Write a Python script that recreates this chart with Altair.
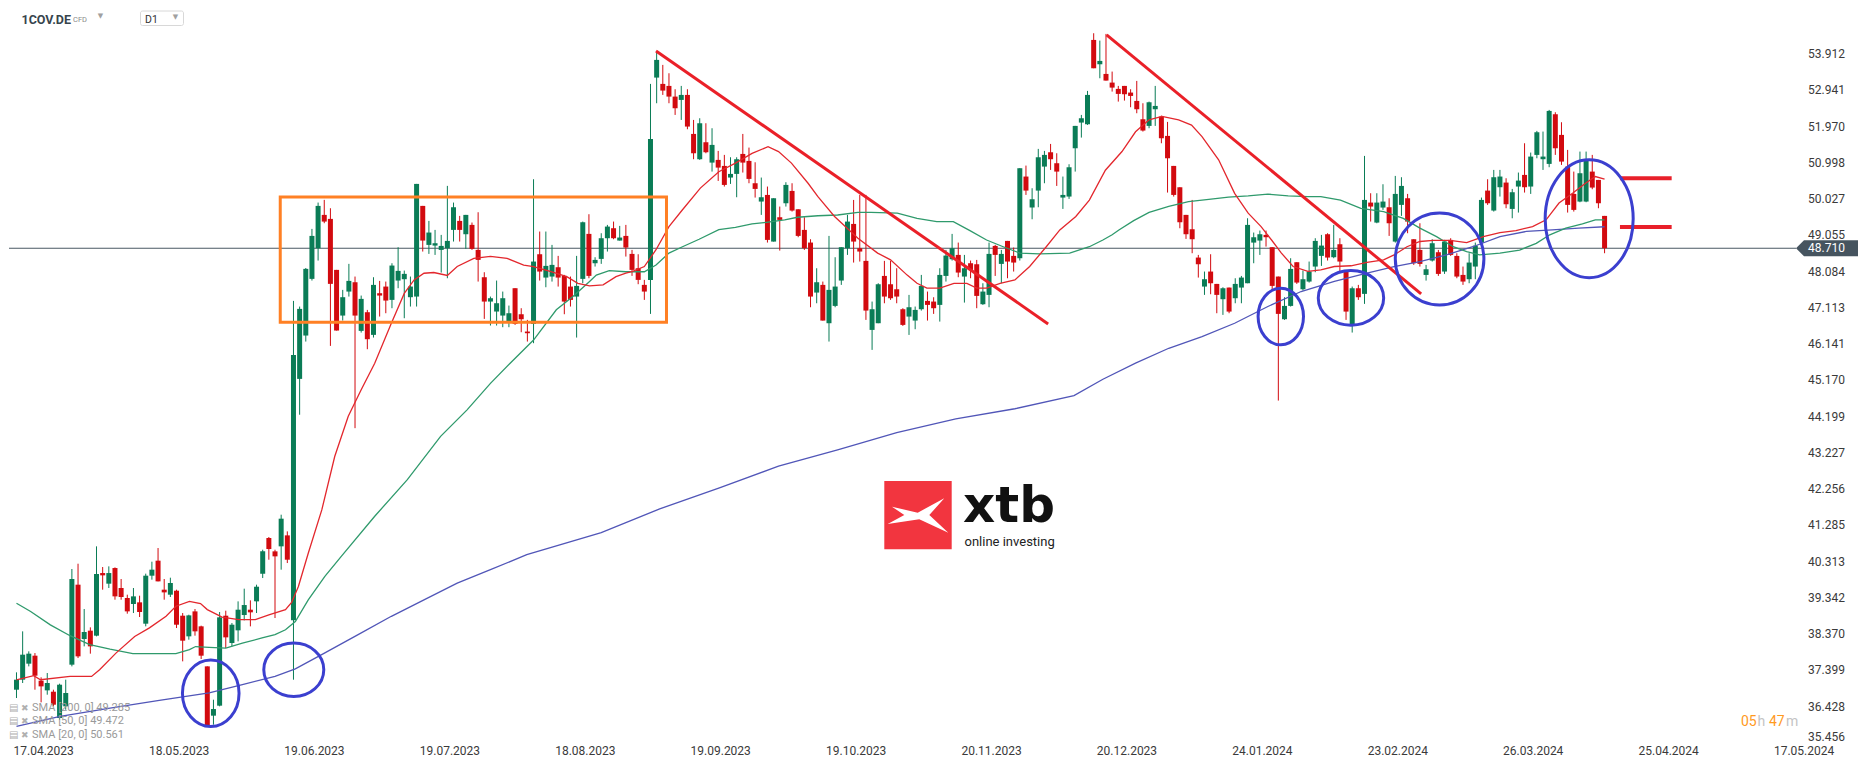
import altair as alt
import pandas as pd

# ---------------- data ----------------
opens = [36.884, 37.152, 37.581, 37.795, 37.125, 36.866, 36.830, 36.125, 36.438, 37.554,
         39.697, 38.241, 38.465, 38.331, 40.009, 39.724, 40.143, 39.608, 39.340, 39.179,
         39.224, 38.652, 39.938, 40.340, 39.563, 39.429, 39.536, 38.866, 38.313, 38.982,
         38.581, 37.509, 36.188, 36.456, 38.866, 38.134, 38.474, 38.884, 39.027, 39.250,
         39.992, 40.947, 40.590, 40.724, 41.018, 38.741, 45.210, 46.371, 47.889, 48.710,
         49.603, 49.496, 48.130, 46.906, 47.549, 47.799, 46.496, 46.996, 46.389, 47.505,
         47.683, 47.326, 47.844, 47.880, 47.398, 47.415, 49.844, 48.799, 48.781, 48.665,
         48.710, 49.201, 49.442, 49.085, 49.335, 48.665, 47.933, 47.281, 47.014, 46.906,
         46.746, 47.639, 46.942, 46.478, 46.683, 48.549, 47.924, 47.951, 48.201, 47.969,
         47.683, 47.415, 47.889, 49.094, 48.308, 48.424, 48.978, 49.246, 48.915, 49.040,
         48.558, 48.174, 47.728, 47.862, 53.281, 53.112, 53.058, 52.772, 52.683, 52.817,
         51.772, 51.094, 51.549, 51.004, 51.076, 50.915, 50.603, 50.701, 51.236, 51.049,
         50.451, 49.960, 50.138, 48.888, 49.540, 49.915, 50.245, 49.754, 49.201, 48.862,
         47.522, 47.728, 46.701, 47.165, 47.844, 48.710, 49.361, 48.710, 48.371, 46.522,
         46.701, 47.968, 47.745, 47.611, 47.076, 46.879, 46.772, 47.076, 47.299, 47.281,
         47.192, 47.968, 48.415, 48.531, 47.951, 48.308, 48.281, 47.210, 47.460, 48.772,
         48.290, 48.906, 48.505, 48.442, 50.630, 49.799, 50.254, 50.897, 51.281, 50.987,
         50.067, 50.094, 51.388, 52.076, 52.031, 54.290, 53.638, 53.379, 53.147, 52.978,
         53.058, 52.880, 52.656, 52.165, 51.987, 52.433, 52.237, 51.719, 50.915, 50.343,
         49.603, 49.219, 48.460, 47.683, 48.085, 47.754, 47.344, 47.656, 47.371, 47.656,
         47.772, 48.861, 48.915, 49.067, 48.737, 47.951, 46.808, 47.165, 48.335, 47.611,
         47.817, 48.219, 48.505, 49.085, 48.469, 48.817, 48.112, 46.656, 47.638, 47.487,
         49.933, 49.397, 49.799, 49.808, 48.888, 49.871, 50.049, 48.951, 48.665, 47.995,
         48.380, 48.603, 48.085, 48.933, 48.504, 47.995, 47.880, 48.219, 48.861, 50.254,
         49.719, 50.344, 50.469, 49.763, 50.362, 50.674, 50.362, 51.210, 51.094, 50.969,
         52.299, 51.746, 50.897, 50.165, 49.960, 49.960, 50.763, 50.540, 49.576]
highs = [37.349, 38.447, 37.911, 37.866, 37.215, 37.331, 36.884, 37.045, 37.152, 40.117,
         40.259, 39.045, 38.554, 40.724, 40.170, 40.188, 40.161, 39.849, 39.429, 39.608,
         39.402, 39.992, 40.313, 40.679, 39.849, 39.884, 39.563, 38.938, 38.893, 39.045,
         38.599, 37.509, 36.616, 38.965, 39.000, 38.670, 39.250, 39.590, 39.277, 39.697,
         40.634, 40.974, 40.634, 41.572, 41.125, 47.299, 47.147, 48.180, 49.228, 49.933,
         50.005, 49.781, 48.130, 47.594, 48.291, 47.951, 47.442, 47.058, 47.933, 47.835,
         47.817, 48.308, 48.737, 48.112, 47.951, 50.433, 49.844, 49.442, 49.201, 49.067,
         50.380, 49.933, 49.576, 49.603, 49.398, 49.674, 48.067, 47.415, 47.844, 47.549,
         47.174, 47.639, 47.103, 46.790, 50.558, 49.157, 49.157, 48.799, 48.505, 47.996,
         47.951, 48.505, 49.424, 49.621, 48.469, 49.112, 49.335, 49.424, 49.308, 49.335,
         48.665, 48.549, 47.862, 53.112, 53.978, 53.621, 53.397, 52.969, 53.058, 52.969,
         52.147, 52.192, 52.058, 51.924, 51.317, 51.210, 51.147, 51.147, 51.772, 51.406,
         51.013, 50.603, 50.362, 50.049, 49.826, 50.478, 50.451, 49.754, 49.540, 48.951,
         48.174, 47.817, 49.040, 48.469, 48.737, 49.603, 50.004, 50.138, 50.138, 47.281,
         47.772, 48.371, 48.371, 48.174, 47.103, 47.460, 47.147, 47.995, 47.549, 47.397,
         48.174, 48.665, 49.094, 48.861, 48.531, 48.380, 48.397, 47.772, 48.861, 48.799,
         48.665, 48.906, 48.728, 50.853, 50.924, 50.317, 51.371, 51.317, 51.504, 51.254,
         50.630, 50.960, 51.987, 52.281, 52.924, 54.469, 54.272, 54.451, 53.442, 53.058,
         53.058, 52.969, 53.192, 52.594, 52.638, 53.058, 52.263, 52.094, 50.915, 50.343,
         49.603, 50.004, 48.531, 48.085, 48.549, 47.754, 47.665, 47.656, 47.906, 47.968,
         49.513, 49.130, 49.183, 49.183, 48.737, 47.951, 47.397, 48.442, 48.335, 48.112,
         48.353, 48.978, 49.067, 49.112, 49.335, 48.978, 48.112, 47.683, 47.728, 51.183,
         50.183, 50.183, 50.424, 50.049, 50.647, 50.612, 50.165, 48.951, 49.379, 48.264,
         48.951, 48.665, 48.933, 48.978, 48.576, 48.219, 48.576, 48.861, 50.067, 50.558,
         50.808, 50.808, 50.585, 50.299, 50.737, 51.522, 51.272, 51.853, 51.835, 52.415,
         52.353, 52.085, 51.344, 50.763, 51.299, 51.299, 51.210, 50.540, 49.576]
lows = [36.661, 37.063, 37.509, 36.884, 36.545, 36.750, 36.438, 36.080, 36.348, 37.509,
        37.732, 38.045, 37.849, 38.313, 39.563, 39.608, 39.295, 39.295, 38.920, 38.938,
        38.831, 38.581, 39.831, 39.786, 39.295, 39.367, 38.536, 37.643, 38.224, 38.331,
        37.706, 35.902, 35.947, 36.438, 38.000, 38.045, 38.179, 38.741, 38.581, 38.938,
        39.875, 40.366, 38.804, 40.099, 40.277, 37.152, 44.250, 46.210, 47.844, 48.380,
        49.380, 46.094, 46.505, 46.773, 47.415, 43.890, 46.451, 46.005, 46.317, 46.880,
        46.969, 47.103, 47.639, 46.835, 47.148, 47.148, 48.621, 48.558, 48.531, 48.058,
        47.906, 48.889, 48.889, 48.692, 48.665, 47.817, 46.817, 46.639, 46.639, 46.594,
        46.594, 46.656, 46.460, 46.210, 46.166, 47.844, 47.665, 47.817, 47.683, 46.942,
        47.148, 46.317, 47.773, 47.906, 48.219, 48.291, 48.621, 48.951, 48.915, 48.487,
        47.969, 47.746, 47.326, 46.951, 52.594, 52.817, 52.594, 52.281, 52.147, 51.897,
        51.094, 51.076, 51.254, 50.763, 50.513, 50.362, 50.433, 50.076, 50.737, 50.451,
        50.067, 49.603, 48.862, 48.888, 48.647, 49.826, 49.692, 49.005, 48.665, 47.129,
        47.236, 46.772, 46.210, 47.129, 47.728, 48.531, 48.326, 48.353, 46.790, 45.987,
        46.701, 47.236, 47.326, 47.236, 46.629, 46.388, 46.540, 47.040, 46.772, 46.951,
        46.745, 47.817, 48.380, 47.933, 47.254, 47.906, 47.103, 47.192, 47.129, 47.968,
        47.772, 47.906, 48.085, 48.380, 50.138, 49.486, 49.808, 50.451, 50.808, 50.379,
        49.763, 50.031, 50.763, 51.674, 52.013, 53.531, 53.263, 53.201, 52.906, 52.638,
        52.665, 52.487, 52.326, 51.835, 51.924, 51.987, 51.522, 50.201, 50.094, 49.245,
        48.960, 48.576, 47.924, 47.460, 47.478, 46.969, 46.924, 46.969, 47.236, 47.236,
        47.772, 48.308, 48.531, 48.754, 47.576, 44.629, 46.790, 47.147, 47.754, 47.576,
        47.790, 48.067, 48.237, 48.380, 48.442, 48.067, 46.790, 46.451, 47.326, 47.219,
        49.424, 49.379, 49.737, 49.040, 48.861, 49.576, 49.112, 48.264, 48.219, 47.843,
        48.353, 47.969, 48.022, 48.504, 47.906, 47.728, 47.772, 47.880, 48.826, 49.871,
        49.692, 50.094, 49.781, 49.513, 49.665, 50.201, 50.165, 51.120, 50.808, 50.880,
        51.210, 50.942, 49.665, 49.692, 49.942, 49.942, 50.290, 49.781, 48.576]
closes = [37.152, 37.822, 37.849, 37.259, 36.973, 37.063, 36.482, 37.018, 36.795, 39.849,
          37.777, 38.429, 38.045, 39.983, 39.947, 40.009, 39.384, 39.367, 38.982, 39.384,
          38.965, 39.938, 40.099, 39.786, 39.491, 39.742, 38.625, 38.197, 38.875, 38.447,
          37.795, 35.902, 36.366, 38.822, 38.286, 38.625, 39.027, 39.152, 38.956, 39.643,
          40.590, 40.652, 40.456, 41.465, 40.366, 45.853, 47.085, 48.157, 49.040, 49.844,
          49.424, 47.755, 46.505, 47.398, 47.835, 46.906, 47.353, 46.273, 47.728, 47.442,
          47.308, 48.246, 48.103, 48.023, 47.683, 50.433, 48.915, 49.130, 48.844, 48.772,
          48.906, 49.808, 49.201, 49.603, 48.692, 48.398, 47.281, 47.371, 47.237, 47.371,
          46.969, 46.683, 46.808, 46.433, 48.353, 48.085, 48.237, 48.264, 47.924, 47.281,
          47.326, 47.701, 49.406, 47.969, 48.397, 48.978, 49.290, 48.978, 48.996, 48.728,
          48.130, 47.862, 47.549, 51.638, 53.755, 52.933, 52.772, 52.460, 52.817, 51.969,
          51.254, 52.058, 51.281, 51.478, 50.870, 50.406, 50.701, 51.094, 51.004, 50.567,
          50.299, 50.076, 48.933, 50.049, 49.469, 50.406, 49.719, 49.040, 48.710, 47.415,
          47.799, 46.772, 47.594, 47.683, 48.737, 49.424, 48.888, 48.621, 47.040, 47.076,
          47.745, 47.415, 47.370, 47.415, 46.656, 47.129, 47.058, 47.701, 47.192, 47.103,
          47.995, 48.513, 48.710, 48.058, 48.174, 48.129, 47.433, 47.549, 48.558, 48.531,
          48.558, 48.353, 48.326, 50.853, 50.254, 50.022, 51.147, 51.210, 51.094, 50.763,
          50.138, 50.879, 51.987, 52.192, 52.817, 53.531, 53.728, 53.201, 53.013, 52.844,
          52.835, 52.790, 52.433, 51.862, 52.620, 52.522, 51.656, 51.120, 50.138, 49.406,
          49.085, 48.951, 48.281, 47.880, 47.772, 47.460, 47.638, 47.013, 47.754, 47.924,
          49.335, 49.004, 49.085, 49.005, 47.701, 46.951, 47.165, 48.156, 47.790, 47.880,
          48.085, 48.906, 48.781, 48.460, 48.665, 48.353, 47.013, 47.638, 47.397, 50.004,
          49.826, 49.933, 49.960, 49.379, 50.165, 50.379, 49.424, 48.308, 48.290, 48.147,
          48.844, 48.022, 48.888, 48.531, 47.951, 47.817, 48.326, 48.781, 50.004, 49.915,
          50.612, 50.630, 49.888, 50.210, 50.522, 50.344, 51.165, 51.817, 51.165, 52.388,
          51.388, 51.031, 49.871, 49.737, 50.719, 51.076, 50.335, 49.915, 48.710]

sma20_idx = [0, 2.8, 3.9, 8.7, 12.2, 13.5, 16.2, 19.2, 21.6, 24.3, 25.9, 28.1, 29.9, 31, 33.4, 36.1,
             38.8, 41, 43.7, 44.7, 45.8, 47.4, 49.6, 51.7, 53.9, 56, 58.2, 60.9, 63.0, 64.6, 66.2,
             67.8, 70, 71.6, 74.3, 77, 79.7, 82.4, 84, 86.7, 89.4, 91.2, 93.1, 95.3, 97.4, 99,
             100.1, 102, 103.9, 106, 108.2, 111.1, 114.1, 116.8, 119.5, 122.1, 123.8, 125.9,
             128.6, 130.2, 132.9, 136.7, 139.9, 142, 144.7, 146.3, 147.9, 150, 152.3, 154.4, 156,
             157.6, 159.8, 162.2, 164.6, 167.3, 169.5, 172.1, 174.3, 176.9, 179.6, 181.8, 184,
             186.1, 188.8, 190.9, 192.6, 195.3, 197.9, 200.1, 202.2, 203.9, 205.5, 207.4, 209.8,
             211.9, 214.1, 216.8, 219.4, 222.1, 223.8, 225.9, 228, 230.2, 232.9, 235.6, 238.3,
             241, 243.6, 246.3, 248.5, 250.6, 252.8, 254.9, 256.5, 258]
sma20_val = [37.15, 37.26, 37.15, 37.24, 37.24, 37.42, 37.87, 38.31, 38.54, 38.85, 39.12, 39.25,
             39.19, 39.03, 38.83, 38.76, 38.76, 38.89, 39.03, 39.22, 39.65, 40.54, 41.70, 43.13,
             44.21, 44.92, 45.63, 46.70, 47.50, 47.86, 48.04, 48.06, 47.98, 48.22, 48.44, 48.49,
             48.44, 48.26, 48.22, 48.09, 47.95, 47.77, 47.70, 47.73, 47.95, 48.04, 48.09, 48.22,
             48.67, 49.29, 49.74, 50.32, 50.76, 50.99, 51.25, 51.43, 51.30, 50.99, 50.45, 50.09,
             49.56, 48.98, 48.58, 48.40, 47.99, 47.77, 47.64, 47.64, 47.77, 47.77, 47.64, 47.64,
             47.77, 47.86, 48.22, 48.75, 49.20, 49.56, 50.00, 50.80, 51.30, 51.83, 52.15, 52.24,
             52.15, 52.01, 51.70, 51.08, 50.18, 49.65, 49.29, 48.93, 48.58, 48.22, 48.09, 48.13,
             48.22, 48.24, 48.33, 48.40, 48.53, 48.75, 48.89, 48.92, 48.92, 48.86, 49.02, 49.13,
             49.18, 49.29, 49.47, 49.92, 50.18, 50.45, 50.63, 50.56]

sma50_idx = [0, 2.3, 5.5, 8.7, 11.9, 15.2, 18.9, 25.9, 28.1, 29.1, 31.3, 34, 36.7, 39.9, 42, 43.7,
             45.3, 47.4, 50.1, 52.8, 58.2, 63.5, 68.9, 73.2, 77, 80.2, 84, 87.7, 90.4, 93.1, 94.2,
             96.3, 99, 102, 103.9, 106, 108.2, 110.9, 114.1, 116.8, 119.5, 122.1, 124.8, 126.9,
             130.2, 133.4, 136.7, 138.8, 143.1, 146.3, 149.5, 152.2, 154.9, 157.6, 160.3, 163,
             166.2, 171.1, 174.3, 176.5, 178, 179.1, 181.5, 184, 187.2, 190.4, 193.7, 196.9,
             200.1, 203.3, 206.6, 209.8, 211.9, 215.1, 218.4, 222.1, 225.3, 228, 230.7, 233.4,
             235.6, 237.7, 241, 244.2, 246.9, 249.1, 251.7, 254.4, 256.5, 258]
sma50_val = [39.20, 38.98, 38.62, 38.33, 38.09, 37.97, 37.85, 37.85, 37.96, 38.04, 38.02, 38.00,
             38.13, 38.27, 38.36, 38.49, 38.71, 39.29, 39.92, 40.46, 41.53, 42.51, 43.67, 44.38,
             45.09, 45.63, 46.25, 47.06, 47.42, 47.82, 47.99, 48.11, 48.08, 48.08, 48.26, 48.58,
             48.75, 48.95, 49.21, 49.27, 49.36, 49.41, 49.47, 49.54, 49.58, 49.60, 49.67, 49.67,
             49.65, 49.51, 49.42, 49.42, 49.18, 48.93, 48.75, 48.58, 48.56, 48.58, 48.75, 48.93,
             49.07, 49.20, 49.45, 49.67, 49.83, 49.96, 50.02, 50.08, 50.11, 50.16, 50.11, 50.09,
             50.09, 50.00, 49.78, 49.69, 49.51, 49.25, 49.02, 48.75, 48.62, 48.53, 48.58, 48.66,
             48.84, 49.07, 49.25, 49.36, 49.47, 49.47]

sma200_idx = [0, 7.1, 15.2, 23.2, 31.3, 36.7, 42, 45.3, 50.1, 55.5, 60.9, 66.2, 71.6, 77, 82.9, 95,
              104.5, 114.2, 123.8, 133.4, 143, 152.6, 162.2, 171.8, 176.5, 181.8, 187.2, 192.6,
              197.9, 203.3, 208.7, 214.1, 219.4, 223.8, 228, 232.3, 236.6, 241, 245.3, 249.5,
              253.8, 258]
sma200_val = [35.90, 36.17, 36.39, 36.60, 36.80, 37.02, 37.24, 37.44, 37.87, 38.36, 38.85, 39.29,
              39.74, 40.10, 40.50, 41.09, 41.73, 42.29, 42.87, 43.31, 43.77, 44.14, 44.41, 44.76,
              45.20, 45.63, 46.03, 46.34, 46.70, 47.15, 47.55, 47.82, 48.04, 48.22, 48.35, 48.53,
              48.75, 49.02, 49.16, 49.20, 49.25, 49.285]

date_labels = ["17.04.2023", "18.05.2023", "19.06.2023", "19.07.2023", "18.08.2023", "19.09.2023",
               "19.10.2023", "20.11.2023", "20.12.2023", "24.01.2024", "23.02.2024", "26.03.2024",
               "25.04.2024", "17.05.2024"]
date_index = [0, 22, 44, 66, 88, 110, 132, 154, 176, 198, 220, 242, 264, 286]

price_ticks = [35.456, 36.428, 37.399, 38.370, 39.342, 40.313, 41.285, 42.256, 43.227, 44.199,
               45.170, 46.141, 47.113, 48.084, 49.055, 50.027, 50.998, 51.970, 52.941, 53.912]

legend_labels = ["SMA [200, 0] 49.285", "SMA [50, 0] 49.472", "SMA [20, 0] 50.561"]

# annotations (in bar-index / price units)
box_i = [42.85, 105.6]
box_v = [50.08, 46.73]
trend_i0 = [103.9, 177.1]
trend_v0 = [53.996, 54.424]
trend_i1 = [167.6, 228.2]
trend_v1 = [46.683, 47.487]
mark_i = [260.5, 268.9]
mark_v = [50.585, 49.278]
ell_i = [31.56, 45.05, 205.4, 216.8, 231.2, 255.5]
ell_v = [36.79, 37.42, 46.88, 47.38, 48.42, 49.50]
ell_rx = [28.3, 30.0, 22.7, 32.7, 44.3, 44.0]
ell_ry = [33.3, 26.7, 28.3, 27.3, 46.0, 59.0]

# ---------------- layout ----------------
W, H = 1787, 735
STEP = 6.19
x0 = -2.5 / STEP
xs = alt.Scale(domain=[x0, x0 + W / STEP], nice=False, zero=False)
ys = alt.Scale(domain=[35.456, 35.456 + H / 37.33], nice=False, zero=False)

GREEN = "#0a7c56"
RED = "#d20a0f"
FONT = "Roboto"
LABEL = "#3a3a3a"

n = len(closes)
candles = pd.DataFrame({"i": list(range(n)), "o": opens, "h": highs, "l": lows, "c": closes})
col = alt.when(alt.datum.c >= alt.datum.o).then(alt.value(GREEN)).otherwise(alt.value(RED))

X = lambda f: alt.X(f, scale=xs, axis=None)
Y = lambda f: alt.Y(f, scale=ys, axis=None)

wicks = alt.Chart(candles).mark_rule(strokeWidth=1).encode(
    x=X("i:Q"), y=Y("l:Q"), y2="h:Q", color=col)
bodies = alt.Chart(candles).mark_bar(size=5).encode(
    x=X("i:Q"), y=Y("o:Q"), y2="c:Q", color=col)

last = pd.DataFrame({"v": [closes[-1]], "t": [f"{closes[-1]:.3f}"]})
price_line = alt.Chart(last).mark_rule(color="#4a5863", strokeWidth=1.2).encode(y=Y("v:Q"))

# right-hand price scale labels
ticks = pd.DataFrame({"v": price_ticks, "t": [f"{v:.3f}" for v in price_ticks]})
tick_text = alt.Chart(ticks.iloc[1:]).mark_text(align="left", baseline="middle", font=FONT,
                                                fontSize=12, color=LABEL).encode(
    x=alt.value(W + 12), y=Y("v:Q"), text="t:N")
tick_text0 = alt.Chart(ticks.iloc[:1]).mark_text(align="left", baseline="bottom", dy=1, font=FONT,
                                                 fontSize=12, color=LABEL).encode(
    x=alt.value(W + 12), y=Y("v:Q"), text="t:N")

sma = pd.concat([
    pd.DataFrame({"s": "sma200", "i": sma200_idx, "v": sma200_val}),
    pd.DataFrame({"s": "sma50", "i": sma50_idx, "v": sma50_val}),
    pd.DataFrame({"s": "sma20", "i": sma20_idx, "v": sma20_val}),
])
sma_lines = alt.Chart(sma).mark_line(strokeWidth=1.3).encode(
    x=X("i:Q"), y=Y("v:Q"), order="i:Q",
    color=alt.Color("s:N", scale=alt.Scale(domain=["sma20", "sma50", "sma200"],
                                            range=["#e3272d", "#2f9a6c", "#5156b8"]), legend=None))

box = alt.Chart(pd.DataFrame({"i0": [box_i[0]], "i1": [box_i[1]], "v0": [box_v[0]], "v1": [box_v[1]]})
                ).mark_rect(filled=False, stroke="#ff8024", strokeWidth=3).encode(
    x=X("i0:Q"), x2="i1:Q", y=Y("v0:Q"), y2="v1:Q")

trend = alt.Chart(pd.DataFrame({"i0": trend_i0, "v0": trend_v0, "i1": trend_i1, "v1": trend_v1})
                  ).mark_rule(color="#ea2028", strokeWidth=3).encode(
    x=X("i0:Q"), y=Y("v0:Q"), x2="i1:Q", y2="v1:Q")

marks = alt.Chart(pd.DataFrame({"i0": [mark_i[0]] * 2, "i1": [mark_i[1]] * 2, "v": mark_v})
                  ).mark_rule(color="#e8202a", strokeWidth=4).encode(
    x=X("i0:Q"), x2="i1:Q", y=Y("v:Q"))


def ellipse_path(rx, ry):
    R = max(rx, ry)
    a, b, k = rx / R, ry / R, 0.5523
    return (f"M {a:.3f} 0 C {a:.3f} {k*b:.3f} {k*a:.3f} {b:.3f} 0 {b:.3f} "
            f"C {-k*a:.3f} {b:.3f} {-a:.3f} {k*b:.3f} {-a:.3f} 0 "
            f"C {-a:.3f} {-k*b:.3f} {-k*a:.3f} {-b:.3f} 0 {-b:.3f} "
            f"C {k*a:.3f} {-b:.3f} {a:.3f} {-k*b:.3f} {a:.3f} 0 Z")


ell = pd.DataFrame({"i": ell_i, "v": ell_v,
                    "p": [ellipse_path(a, b) for a, b in zip(ell_rx, ell_ry)],
                    "sz": [(2 * max(a, b)) ** 2 for a, b in zip(ell_rx, ell_ry)]})
ellipses = alt.Chart(ell).mark_point(filled=False, strokeWidth=3, color="#3b3fcf", opacity=1).encode(
    x=X("i:Q"), y=Y("v:Q"), shape=alt.Shape("p:N", scale=None), size=alt.Size("sz:Q", scale=None))

dates = pd.DataFrame({"i": date_index, "t": date_labels})
date_text = alt.Chart(dates).mark_text(align="left", baseline="middle", dx=-3, font=FONT,
                                       fontSize=12, color=LABEL).encode(
    x=X("i:Q"), y=alt.value(H + 8), text="t:N")

# price tag on the right axis
TAG = "M -1 0 L -0.742 -0.258 L 1 -0.258 L 1 0.258 L -0.742 0.258 Z"
tag = alt.Chart(last).mark_point(shape=TAG, size=62 * 62, filled=True, color="#46545f", opacity=1,
                                 strokeWidth=0).encode(x=alt.value(W + 31), y=Y("v:Q"))
tag_text = alt.Chart(last).mark_text(align="left", baseline="middle", font=FONT, fontSize=12,
                                     color="white").encode(x=alt.value(W + 12), y=Y("v:Q"), text="t:N")

# ---------------- decorations (fixed screen elements) ----------------
one = pd.DataFrame({"k": [0]})


def txt(t, x, y, **kw):
    return alt.Chart(one).mark_text(text=t, **kw).encode(x=alt.value(x), y=alt.value(y))


hdr = [
    txt("1COV.DE", 12.5, 11.5, align="left", baseline="middle", font=FONT, fontSize=12.5,
        fontWeight="bold", color="#37444d"),
    txt("CFD", 64, 12, align="left", baseline="middle", font=FONT, fontSize=7.5, color="#8a8a8a"),
    txt("▼", 91.5, 8, align="center", baseline="middle", font="DejaVu Sans", fontSize=7,
        color="#a0a0a0"),
    alt.Chart(one).mark_rect(fill="white", stroke="#d8d8d8", strokeWidth=1, cornerRadius=2).encode(
        x=alt.value(131.5), x2=alt.value(174.5), y=alt.value(3), y2=alt.value(17.5)),
    txt("D1", 136, 11.5, align="left", baseline="middle", font=FONT, fontSize=10.5, color="#333"),
    txt("▼", 166.5, 8.5, align="center", baseline="middle", font="DejaVu Sans", fontSize=7,
        color="#a0a0a0"),
]

XMARK = ("M -0.743 -0.237 L -0.009 -0.066 L 0.751 -0.477 L 0.323 0 L 0.866 0.506 "
         "L 0.037 0.123 L -0.866 0.257 L -0.391 0 Z")
logo = [
    alt.Chart(one).mark_rect(fill="#f2353f").encode(
        x=alt.value(875.3), x2=alt.value(942.7), y=alt.value(473), y2=alt.value(541.3)),
    alt.Chart(one).mark_point(shape=XMARK, size=4900, filled=True, color="white", opacity=1,
                              strokeWidth=0).encode(x=alt.value(909), y=alt.value(507)),
    txt("xtb", 954, 514, align="left", baseline="alphabetic", font="DejaVu Sans", fontSize=50,
        fontWeight="bold", color="#111111"),
    txt("online investing", 955.5, 533.5, align="left", baseline="middle", font=FONT, fontSize=13,
        color="#222222"),
]

legend = []
for k, lab in enumerate(legend_labels):
    yy = 699.7 + 13.5 * k
    legend += [
        txt("▤", 0, yy, align="left", baseline="middle", font="DejaVu Sans", fontSize=10,
            color="#b0b0b0"),
        txt("✖", 12, yy, align="left", baseline="middle", font="DejaVu Sans", fontSize=9,
            color="#b0b0b0"),
        txt(lab, 23, yy, align="left", baseline="middle", font=FONT, fontSize=11, color="#9a9a9a"),
    ]

timer = [
    txt("05", 1732, 714, align="left", baseline="middle", font=FONT, fontSize=14, color="#ff9a1e"),
    txt("h", 1748.5, 714, align="left", baseline="middle", font=FONT, fontSize=14, color="#c4c4c4"),
    txt("47", 1760, 714, align="left", baseline="middle", font=FONT, fontSize=14, color="#ff9a1e"),
    txt("m", 1777, 714, align="left", baseline="middle", font=FONT, fontSize=14, color="#c4c4c4"),
]

chart = alt.layer(
    *logo, price_line, wicks, bodies, sma_lines, box, trend, marks, ellipses,
    date_text, tick_text, tick_text0, tag, tag_text, *hdr, *legend, *timer
).properties(width=W, height=H, padding=0, background="white").configure_view(stroke=None)

chart.save("out.html", embed_options={"renderer": "svg", "actions": False})
